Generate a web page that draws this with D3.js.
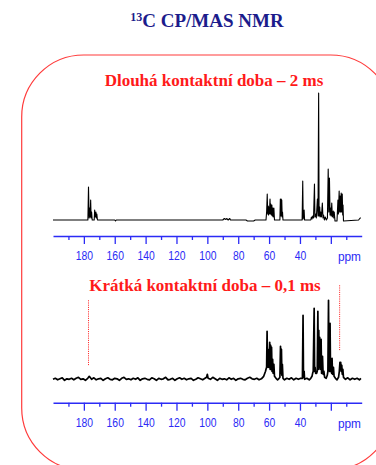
<!DOCTYPE html>
<html>
<head>
<meta charset="utf-8">
<script src="https://cdn.jsdelivr.net/npm/d3@7"></script>
<style>
  body { margin: 0; background: #fff; }
  svg { display: block; }
</style>
</head>
<body>
<div id="chart"></div>
<script>
// spectrum traces as [ppm, intensity] vertices
const longTrace = [
  [200, 0], [177.4, 0], [177.0, 33], [176.6, 2], [176.2, 12], [175.9, 3], [175.6, 20], [175.3, 2],
  [175.0, 8], [174.6, 0], [173.3, 0], [173.0, 10], [172.6, 3], [172.2, 8], [171.9, 2], [171.6, 6],
  [171.2, 0], [160, 0], [159.5, -1], [159, 0], [90, 0], [89, 1.5], [88, 0.5], [87.5, 1.5], [86.5, 0],
  [85.5, 1.5], [85, 0], [75, 0], [74, -1], [70, -1], [69, 0], [62, 0], [61.6, 8], [61.2, 26],
  [60.9, 6], [60.6, 14], [60.4, 5], [60.2, 13], [59.8, 6], [59.4, 21], [59.1, 6], [58.9, 16],
  [58.5, 5], [58.2, 15], [57.9, 4], [57.6, 12], [57.3, 3], [56.9, 12], [56.5, 0], [53, 0],
  [52.7, 21], [52.45, 4], [52.2, 21], [52, 4], [51.8, 20], [51.5, 3], [51.3, 8], [51, 0],
  [38.6, 0], [38.2, 39], [37.9, 1], [37.3, 10], [37, 0], [33, 0], [32.6, 3], [32.2, 1],
  [31.7, 4], [31.2, 2], [30.6, 36], [30.3, 3], [29.9, 6], [29.4, 2], [28.7, 21], [28.3, 4],
  [27.9, 127], [27.6, 4], [27.2, 13], [26.9, 3], [26.6, 8], [26.1, 3], [25.5, 17], [25.1, 2],
  [24.7, 5], [24.2, 0], [23.6, 3], [22.9, 0], [22.2, 2], [21.7, 51], [21.3, 8], [20.9, 42],
  [20.5, 5], [20.2, 12], [19.8, 4], [19.4, 17], [19, 3], [18.4, 9], [18.1, 2], [17.8, 8],
  [17.3, -1], [16, -1], [15.4, 20], [15.1, 6], [14.6, 29], [14.3, 8], [14, 24], [13.7, 8],
  [13.3, 27], [13, 8], [12.6, 26], [12.3, 5], [12.1, 15], [11.8, -1], [2, 0], [1, 2], [0.5, 2]
];

const shortTrace = [
  [200, 0], [198.5, 1], [197, -0.5], [195.5, 0.5], [194, 1.5], [192.5, -1], [191, 0.5], [189.5, 0],
  [188, 1], [186.5, -0.5], [185, 1], [183.5, 2], [182, 0], [180.5, 0.5], [179, -1], [177.5, 1],
  [176.5, 3], [175, 0], [173.5, 1.5], [172, -0.5], [170.5, 0.5], [169, 1], [167.5, -1], [166, 0.5],
  [164.5, 1.5], [163, 0], [161.5, -0.5], [160, 1], [158.5, 0.5], [157, -1], [155.5, 1], [154, 2],
  [152.5, 0], [151, 0.5], [149.5, -0.5], [148, 1], [146.5, 0], [145, 1.5], [143.5, -1], [142, 0.5],
  [140.5, 1], [139, 0], [137.5, -0.5], [136, 1.5], [134.5, 0.5], [133, -1], [131.5, 1], [130, 0],
  [128.5, 0.5], [127, 2], [125.5, -0.5], [124, 0], [122.5, 1], [121, -1], [119.5, 0.5], [118, 1.5],
  [116.5, 0], [115, 1], [113.5, -0.5], [112, 0.5], [110.5, 1], [109, -1], [107.5, 0], [106, 1.5],
  [104.5, 0.5], [103, -0.5], [101.5, 1], [100.5, 2], [100, 5], [99.5, 1], [98, 0], [96.5, 2],
  [95, 0.5], [93.5, -1], [92, 1], [90.5, 0], [89, 0.5], [87.5, -0.5], [86, 1.5], [84.5, 0],
  [83, 1], [81.5, -1], [80, 0.5], [78.5, 1], [77, 0], [75.5, -0.5], [74, 1], [72.5, 2],
  [71, 0.5], [69.5, 0], [68, 1], [66.5, -0.5], [65, 0.5], [63.5, 3], [62.3, 8], [62, 10],
  [61.6, 12], [61.3, 48], [61.0, 14], [60.8, 30], [60.6, 12], [60.3, 29], [60.0, 12], [59.6, 37],
  [59.3, 10], [59.0, 34], [58.7, 10], [58.4, 32], [58.1, 8], [57.7, 20], [57.4, 6], [56.9, 15],
  [56.5, 3], [55.5, 1], [54.5, -0.5], [53.5, 1], [53, 2], [52.6, 33], [52.3, 6], [52.0, 30],
  [51.7, 4], [51.4, 15], [51, 1], [50, -0.5], [48.5, 1], [47, 0], [45.5, 1.5], [44, -0.5],
  [42.5, 1], [41, 0], [39.5, 1], [38.4, 1], [38.0, 64], [37.7, 2], [37.3, 8], [37, 0],
  [35.5, 1], [34, -0.5], [33, 1], [32.2, 3], [31.8, 6], [31.4, 8], [30.8, 71], [30.5, 8],
  [30.2, 12], [29.8, 6], [29.2, 6], [28.8, 8], [28.4, 68], [28.1, 10], [27.8, 49], [27.5, 12],
  [27.2, 42], [26.9, 10], [26.3, 40], [26, 6], [25.4, 23], [25, 5], [24.5, 8], [24, 2], [23, 1],
  [22.3, 4], [21.9, 8], [21.5, 79], [21.2, 10], [21.0, 30], [20.8, 8], [20.5, 56], [20.2, 8],
  [19.8, 20], [19.5, 6], [19.2, 21], [18.9, 5], [18.3, 12], [17.9, 3], [17, 1], [16, -0.5],
  [15, 2], [14.5, 8], [14.1, 17], [13.8, 10], [13.6, 17], [13.3, 8], [12.9, 14], [12.6, 5],
  [12.2, 10], [11.8, 2], [10.5, 0], [9, 1.5], [7.5, -0.5], [6, 1], [4.5, 0], [3, 1], [1.5, -0.5],
  [0.5, 1]
];

const majorTicks = [180, 160, 140, 120, 100, 80, 60, 40, 20];
const tickLabels = ['180', '160', '140', '120', '100', '80', '60', '40', ''];
const minorTicks = [190, 170, 150, 130, 110, 90, 70, 50, 30, 10];

// red dotted markers on the short contact time spectrum
const markerPpm = [177, 14.3];
const markerTop = [79, 94];
const markerBottom = [14, 29];

const titleText = 'C CP/MAS NMR';
const longLabel = 'Dlouhá kontaktní doba – 2 ms';
const shortLabel = 'Krátká kontaktní doba – 0,1 ms';

const W = 376, H = 465;
const blue = '#2b2bf5';
const red = '#ff1a1a';
const serif = "'Liberation Serif', 'Times New Roman', serif";
const sans = "'Liberation Sans', Arial, sans-serif";

const svg = d3.select('#chart').append('svg')
  .attr('width', W)
  .attr('height', H);

// rounded frame
svg.append('rect')
  .attr('x', 21.7).attr('y', 55)
  .attr('width', 371).attr('height', 415)
  .attr('rx', 62).attr('ry', 62)
  .attr('fill', 'none')
  .attr('stroke', '#ff3b3b')
  .attr('stroke-width', 1.2);

// title
const title = svg.append('text')
  .attr('x', 207).attr('y', 27)
  .attr('text-anchor', 'middle')
  .style('font-family', serif)
  .style('font-weight', 'bold')
  .style('font-size', '19px')
  .attr('fill', '#1c1c8c');
title.append('tspan').attr('font-size', '12px').attr('dy', -6).text('13');
title.append('tspan').attr('dy', 6).text(titleText);

const x = d3.scaleLinear().domain([200, 0]).range([53, 361.7]);

function drawPanel(trace, baseY, axisY, label, labelX, labelY, lineW) {
  const y = d3.scaleLinear().domain([0, 127]).range([baseY, baseY - 127]);

  svg.append('text')
    .attr('x', labelX).attr('y', labelY)
    .attr('text-anchor', 'middle')
    .style('font-family', serif)
    .style('font-weight', 'bold')
    .style('font-size', '17px')
    .attr('fill', red)
    .text(label);

  const line = d3.line()
    .x(d => x(d[0]))
    .y(d => y(d[1]));

  svg.append('path')
    .datum(trace)
    .attr('d', line)
    .attr('fill', 'none')
    .attr('stroke', '#000')
    .attr('stroke-width', lineW)
    .attr('stroke-linejoin', 'round');

  // minor ticks
  svg.append('g')
    .attr('transform', 'translate(0,' + axisY + ')')
    .call(d3.axisBottom(x).tickValues(minorTicks).tickSize(4).tickSizeOuter(0).tickFormat(''))
    .call(g => g.select('.domain').remove())
    .call(g => g.selectAll('line').attr('stroke', blue).attr('stroke-width', 1.3));

  // major ticks + labels
  const ax = svg.append('g')
    .attr('transform', 'translate(0,' + axisY + ')')
    .call(d3.axisBottom(x).tickValues(majorTicks).tickSize(8).tickSizeOuter(0)
      .tickFormat((d, i) => tickLabels[i]));
  ax.select('.domain').attr('stroke', blue).attr('stroke-width', 1.6);
  ax.selectAll('line').attr('stroke', blue).attr('stroke-width', 1.3);
  ax.selectAll('text')
    .attr('y', 24.5).attr('dy', 0)
    .attr('transform', 'scale(0.83,1)')
    .attr('fill', blue)
    .style('font-family', sans)
    .style('font-size', '12.5px');

  svg.append('text')
    .attr('transform', 'translate(361,' + (axisY + 25) + ') scale(0.95,1)')
    .attr('text-anchor', 'end')
    .attr('fill', blue)
    .style('font-family', sans)
    .style('font-size', '12.5px')
    .text('ppm');

  return y;
}

drawPanel(longTrace, 220, 236, longLabel, 214, 86, 1.1);
const yShort = drawPanel(shortTrace, 379.3, 402.7, shortLabel, 205, 290.7, 1.7);

svg.append('g').selectAll('line')
  .data(markerPpm)
  .join('line')
  .attr('x1', d => x(d)).attr('x2', d => x(d))
  .attr('y1', (d, i) => yShort(markerTop[i]))
  .attr('y2', (d, i) => yShort(markerBottom[i]))
  .attr('stroke', red)
  .attr('stroke-width', 1)
  .attr('stroke-dasharray', '1,1.2');
</script>
</body>
</html>
